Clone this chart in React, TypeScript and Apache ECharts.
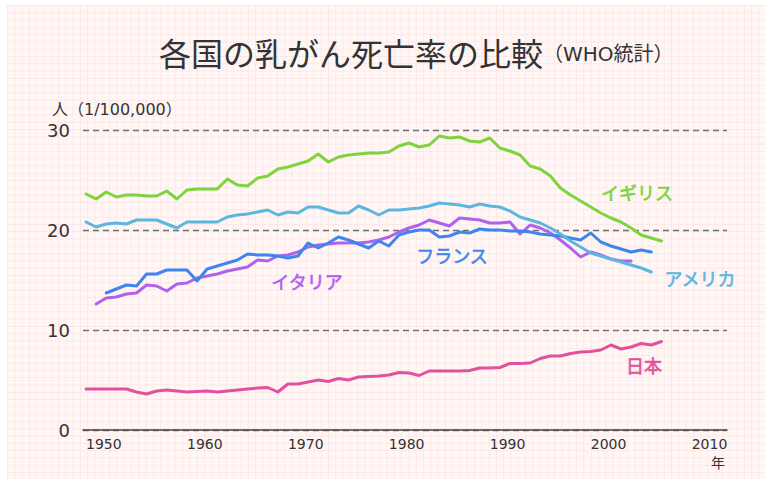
import React, { useEffect, useRef } from "react";
import * as echarts from "echarts";

const xTickYears = [1950, 1960, 1970, 1980, 1990, 2000, 2010];

const ukStart = 1950;
const ukValues = [
  23.6, 23.1, 23.8, 23.3, 23.5, 23.5, 23.4, 23.4, 23.9, 23.1,
  24.0, 24.1, 24.1, 24.1, 25.1, 24.5, 24.4, 25.2, 25.4, 26.1,
  26.3, 26.6, 26.9, 27.6, 26.8, 27.3, 27.5, 27.6, 27.7, 27.7,
  27.8, 28.4, 28.7, 28.3, 28.5, 29.4, 29.2, 29.3, 28.9, 28.8,
  29.2, 28.2, 27.9, 27.5, 26.4, 26.1, 25.4, 24.2, 23.5, 22.9,
  22.3, 21.7, 21.2, 20.8, 20.2, 19.5, 19.2, 18.9,
];

const usaStart = 1950;
const usaValues = [
  20.8, 20.3, 20.6, 20.7, 20.6, 21.0, 21.0, 21.0, 20.6, 20.2,
  20.8, 20.8, 20.8, 20.8, 21.3, 21.5, 21.6, 21.8, 22.0, 21.5,
  21.8, 21.7, 22.3, 22.3, 22.0, 21.7, 21.7, 22.4, 22.0, 21.5,
  22.0, 22.0, 22.1, 22.2, 22.4, 22.7, 22.6, 22.5, 22.3, 22.6,
  22.4, 22.3, 21.9, 21.3, 21.0, 20.7, 20.2, 19.6, 18.9, 18.3,
  17.7, 17.4, 17.1, 16.8, 16.5, 16.2, 15.8,
];

const franceStart = 1952;
const franceValues = [
  13.7, 14.1, 14.5, 14.4, 15.6, 15.6, 16.0, 16.0,
  16.0, 14.9, 16.1, 16.4, 16.7, 17.0, 17.6, 17.5, 17.5, 17.4,
  17.2, 17.4, 18.7, 18.2, 18.7, 19.3, 19.0, 18.6, 18.2, 18.9,
  18.4, 19.5, 19.8, 20.0, 20.0, 19.3, 19.4, 19.8, 19.7, 20.1,
  20.0, 20.0, 19.9, 19.9, 19.8, 19.6, 19.5, 19.4, 19.2, 19.0,
  19.7, 18.8, 18.4, 18.1, 17.8, 18.0, 17.8,
];

const italyStart = 1951;
const italyValues = [
  12.6, 13.2, 13.3, 13.6, 13.7, 14.5, 14.4, 13.9, 14.6,
  14.7, 15.2, 15.4, 15.6, 15.9, 16.1, 16.3, 17.0, 16.9, 17.4,
  17.5, 17.8, 18.3, 18.5, 18.6, 18.7, 18.7, 18.7, 18.8, 19.0,
  19.3, 19.8, 20.2, 20.5, 21.0, 20.7, 20.4, 21.2, 21.1, 21.0,
  20.7, 20.7, 20.8, 19.6, 20.5, 20.2, 19.7, 19.0, 18.2, 17.3,
  17.8, 17.5, 17.1, 16.9, 16.9,
];

const japanStart = 1950;
const japanValues = [
  4.1, 4.1, 4.1, 4.1, 4.1, 3.8, 3.6, 3.9, 4.0, 3.9,
  3.8, 3.85, 3.9, 3.8, 3.9, 4.0, 4.1, 4.2, 4.25, 3.8,
  4.6, 4.6, 4.8, 5.0, 4.85, 5.15, 5.0, 5.3, 5.35, 5.4,
  5.5, 5.75, 5.7, 5.45, 5.9, 5.9, 5.9, 5.9, 5.95, 6.2,
  6.2, 6.25, 6.65, 6.65, 6.7, 7.15, 7.4, 7.4, 7.65, 7.8,
  7.85, 8.0, 8.5, 8.1, 8.3, 8.65, 8.5, 8.85,
];

const countryNames = ["イギリス", "アメリカ", "フランス", "イタリア", "日本"];
const countryColors = ["#7dd43c", "#5cb6e0", "#3f86ec", "#b062ea", "#e0529e"];

const toPairs = (start: number, values: number[]) =>
  values.map((v, i) => [start + i, v]);

const CJK = '"Noto Sans CJK JP", "Noto Sans", sans-serif';
const MIX = '"DejaVu Sans", "Noto Sans CJK JP", sans-serif';
const NUM = '"DejaVu Sans", sans-serif';

export default function App() {
  const ref = useRef<HTMLDivElement>(null);

  useEffect(() => {
    if (!ref.current) return;
    const chart = echarts.init(ref.current, null, { renderer: "svg" });
    const seriesData = [
      toPairs(ukStart, ukValues),
      toPairs(usaStart, usaValues),
      toPairs(franceStart, franceValues),
      toPairs(italyStart, italyValues),
      toPairs(japanStart, japanValues),
    ];
    const labelPos = [
      [637, 192],
      [700, 278],
      [452, 255],
      [307, 281],
      [644, 365],
    ];
    chart.setOption({
      animation: false,
      backgroundColor: "transparent",
      title: {
        text: "{a|各国の乳がん死亡率の比較}{b|（WHO統計）}",
        left: 154,
        top: 31,
        textStyle: {
          fontWeight: "normal",
          rich: {
            a: { fontSize: 32, fontWeight: "normal", fontFamily: CJK, color: "#333", verticalAlign: "bottom" },
            b: { fontSize: 20, fontWeight: "normal", fontFamily: MIX, color: "#333", verticalAlign: "bottom", padding: [0, 0, 4, 0] },
          },
        },
      },
      grid: { left: 83, right: 44, top: 130, bottom: 54 },
      xAxis: {
        type: "value",
        min: 1949.7,
        max: 2013.5,
        axisLine: { show: true, lineStyle: { color: "#444", width: 1.5 } },
        axisTick: { show: false },
        splitLine: { show: false },
        axisLabel: {
          customValues: xTickYears,
          align: "left",
          margin: 7,
          fontSize: 14,
          fontFamily: NUM,
          color: "#333",
          formatter: (v: number) => String(v),
        },
      },
      yAxis: {
        type: "value",
        min: 0,
        max: 30,
        interval: 10,
        axisLine: { show: false },
        axisTick: { show: false },
        axisLabel: { fontSize: 18, fontFamily: NUM, color: "#333", margin: 13 },
        splitLine: { lineStyle: { type: [6, 4], color: "#6f6f6f", width: 1.3 } },
      },
      series: seriesData.map((d, i) => ({
        type: "line",
        name: countryNames[i],
        data: d,
        showSymbol: false,
        symbol: "none",
        lineStyle: { color: countryColors[i], width: 3, cap: "round", join: "round" },
        z: 5 - i,
      })),
      graphic: [
        {
          type: "text",
          left: 52,
          top: 101,
          style: { text: "人（1/100,000）", fontSize: 16, fontFamily: MIX, fill: "#333" },
        },
        {
          type: "text",
          left: 711,
          top: 455,
          style: { text: "年", fontSize: 14, fontFamily: CJK, fill: "#333" },
        },
        ...countryNames.map((name, i) => ({
          type: "text",
          x: labelPos[i][0],
          y: labelPos[i][1],
          style: {
            text: name,
            fontSize: 18,
            fontWeight: "normal",
            fontFamily: CJK,
            fill: countryColors[i],
            stroke: countryColors[i],
            lineWidth: 0.6,
            align: "center",
            verticalAlign: "middle",
          },
        })),
      ],
    });
    return () => chart.dispose();
  }, []);

  return (
    <div style={{ position: "fixed", left: 0, top: 0, width: 771, height: 484, background: "#fff" }}>
      <div
        style={{
          position: "absolute",
          left: 7,
          top: 5,
          width: 758,
          height: 474,
          backgroundColor: "#fff7f6",
          backgroundImage:
            "linear-gradient(#fde7e5 1.2px, transparent 1.2px), linear-gradient(90deg, #fde7e5 1.2px, transparent 1.2px)",
          backgroundSize: "7.3px 7.3px",
        }}
      />
      <div ref={ref} style={{ position: "absolute", left: 0, top: 0, width: 771, height: 484 }} />
    </div>
  );
}
